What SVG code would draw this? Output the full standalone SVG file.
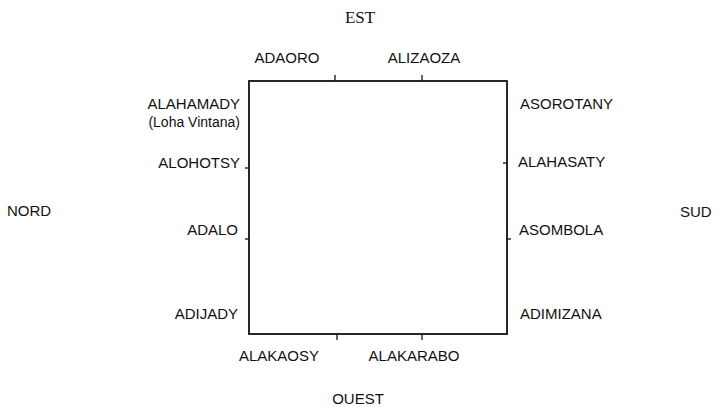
<svg xmlns="http://www.w3.org/2000/svg" width="722" height="407" viewBox="0 0 722 407">
  <style>
    .lbl { font-family: "Liberation Sans", "DejaVu Sans", sans-serif; font-size: 15px; fill: #111; }
    .sm { font-size: 14px; }
    .ser { font-family: "Liberation Serif", serif; font-size: 17px; fill: #111; }
    .r { text-anchor: end; }
    .m { text-anchor: middle; }
    .frame { fill: none; stroke: #111; stroke-width: 1.8; }
    .tick { stroke: #111; stroke-width: 1.3; }
  </style>
  <rect width="722" height="407" fill="#fff"/>

  <!-- the square and its ticks -->
  <g id="connectors">
    <rect class="frame" x="249" y="81" width="258" height="253"/>
    <line class="tick" x1="335" y1="81" x2="335" y2="75"/>
    <line class="tick" x1="422" y1="81" x2="422" y2="75"/>
    <line class="tick" x1="337" y1="334" x2="337" y2="340"/>
    <line class="tick" x1="422" y1="334" x2="422" y2="340"/>
    <line class="tick" x1="249" y1="168" x2="245" y2="168"/>
    <line class="tick" x1="249" y1="239" x2="245" y2="239"/>
    <line class="tick" x1="507" y1="163" x2="503" y2="163"/>
    <line class="tick" x1="507" y1="239" x2="511" y2="239"/>
  </g>

  <!-- cardinal directions -->
  <g id="est"><text class="ser m" x="360" y="23">EST</text></g>
  <g id="ouest"><text class="lbl m" x="358" y="404">OUEST</text></g>
  <g id="nord"><text class="lbl" x="7" y="216">NORD</text></g>
  <g id="sud"><text class="lbl" x="680" y="217">SUD</text></g>

  <!-- top -->
  <g id="adaoro"><text class="lbl m" x="287" y="63">ADAORO</text></g>
  <g id="alizaoza"><text class="lbl m" x="424" y="63">ALIZAOZA</text></g>

  <!-- left -->
  <g id="alahamady">
    <text class="lbl r" x="240" y="109">ALAHAMADY</text>
    <text class="lbl sm r" x="240" y="127">(Loha Vintana)</text>
  </g>
  <g id="alohotsy"><text class="lbl r" x="240" y="168">ALOHOTSY</text></g>
  <g id="adalo"><text class="lbl r" x="238" y="235">ADALO</text></g>
  <g id="adijady"><text class="lbl r" x="238" y="319">ADIJADY</text></g>

  <!-- right -->
  <g id="asorotany"><text class="lbl" x="520" y="109">ASOROTANY</text></g>
  <g id="alahasaty"><text class="lbl" x="518" y="167">ALAHASATY</text></g>
  <g id="asombola"><text class="lbl" x="519" y="235">ASOMBOLA</text></g>
  <g id="adimizana"><text class="lbl" x="520" y="319">ADIMIZANA</text></g>

  <!-- bottom -->
  <g id="alakaosy"><text class="lbl m" x="279" y="361">ALAKAOSY</text></g>
  <g id="alakarabo"><text class="lbl m" x="414" y="361">ALAKARABO</text></g>
</svg>
